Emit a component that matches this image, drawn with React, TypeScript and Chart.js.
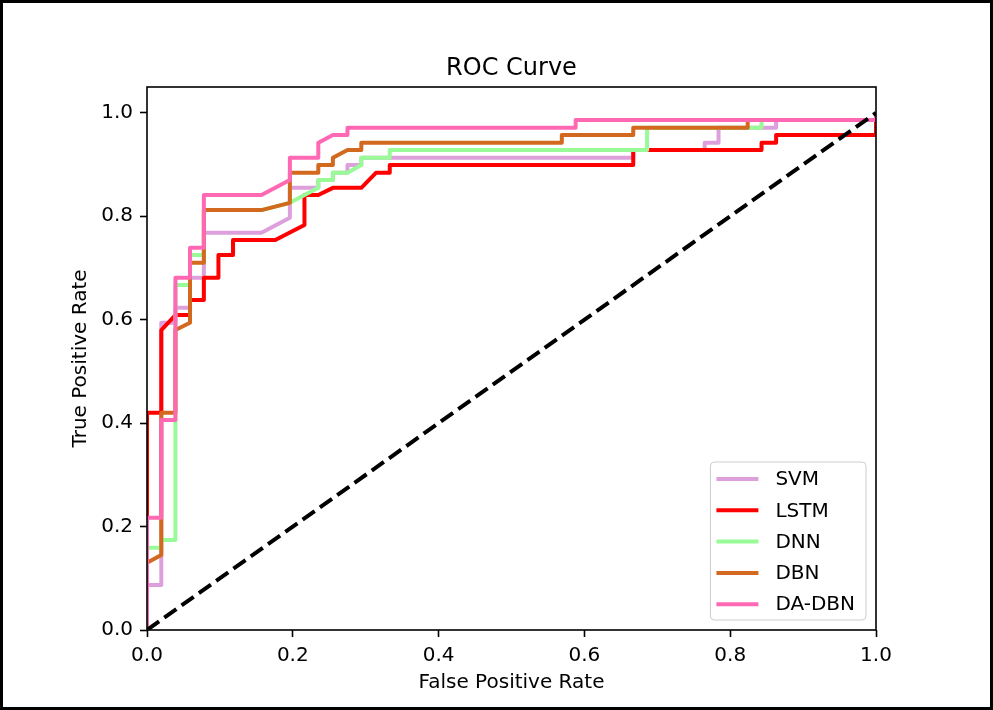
import React, { useEffect, useRef } from "react";
import { Chart, registerables } from "chart.js";

Chart.register(...registerables);

const TITLE = "ROC Curve";
const X_LABEL = "False Positive Rate";
const Y_LABEL = "True Positive Rate";
const X_TICKS = [0, 0.2, 0.4, 0.6, 0.8, 1.0];
const Y_TICKS = [0, 0.2, 0.4, 0.6, 0.8, 1.0];

const SVM_FPR = [0, 0, 0.0196, 0.0196, 0.039, 0.039, 0.059, 0.059, 0.078, 0.078, 0.157, 0.196, 0.196, 0.235, 0.235, 0.255, 0.255, 0.275, 0.275, 0.294, 0.294, 0.667, 0.667, 0.765, 0.765, 0.784, 0.784, 0.863, 0.863, 1, 1];
const SVM_TPR = [0, 0.087, 0.087, 0.594, 0.594, 0.623, 0.623, 0.681, 0.681, 0.768, 0.768, 0.797, 0.855, 0.855, 0.870, 0.870, 0.884, 0.884, 0.899, 0.899, 0.913, 0.913, 0.928, 0.928, 0.942, 0.942, 0.971, 0.971, 0.986, 0.986, 1];

const LSTM_FPR = [0, 0, 0.0196, 0.0196, 0.039, 0.059, 0.059, 0.078, 0.078, 0.098, 0.098, 0.118, 0.118, 0.176, 0.216, 0.216, 0.235, 0.255, 0.294, 0.314, 0.333, 0.333, 0.667, 0.667, 0.843, 0.843, 0.863, 0.863, 1, 1];
const LSTM_TPR = [0, 0.42, 0.42, 0.58, 0.609, 0.609, 0.638, 0.638, 0.681, 0.681, 0.725, 0.725, 0.754, 0.754, 0.783, 0.841, 0.841, 0.855, 0.855, 0.884, 0.884, 0.899, 0.899, 0.928, 0.928, 0.942, 0.942, 0.957, 0.957, 1];

const DNN_FPR = [0, 0, 0.0196, 0.0196, 0.039, 0.039, 0.059, 0.059, 0.078, 0.078, 0.157, 0.196, 0.216, 0.235, 0.235, 0.255, 0.255, 0.275, 0.294, 0.294, 0.333, 0.333, 0.686, 0.686, 0.843, 0.843, 1, 1];
const DNN_TPR = [0, 0.159, 0.159, 0.174, 0.174, 0.667, 0.667, 0.725, 0.725, 0.812, 0.812, 0.826, 0.841, 0.855, 0.870, 0.870, 0.884, 0.884, 0.899, 0.913, 0.913, 0.928, 0.928, 0.971, 0.971, 0.986, 0.986, 1];

const DBN_FPR = [0, 0, 0.0196, 0.0196, 0.039, 0.039, 0.059, 0.059, 0.078, 0.078, 0.157, 0.196, 0.196, 0.235, 0.235, 0.255, 0.255, 0.275, 0.294, 0.294, 0.569, 0.569, 0.667, 0.667, 0.824, 0.824, 1, 1];
const DBN_TPR = [0, 0.130, 0.145, 0.42, 0.42, 0.58, 0.594, 0.710, 0.710, 0.812, 0.812, 0.826, 0.884, 0.884, 0.899, 0.899, 0.913, 0.928, 0.928, 0.942, 0.942, 0.957, 0.957, 0.971, 0.971, 0.986, 0.986, 1];

const DADBN_FPR = [0, 0, 0.0196, 0.0196, 0.039, 0.039, 0.059, 0.059, 0.078, 0.078, 0.157, 0.196, 0.196, 0.235, 0.235, 0.255, 0.275, 0.275, 0.588, 0.588, 1, 1];
const DADBN_TPR = [0, 0.217, 0.217, 0.406, 0.406, 0.681, 0.681, 0.739, 0.739, 0.841, 0.841, 0.870, 0.913, 0.913, 0.942, 0.957, 0.957, 0.971, 0.971, 0.986, 0.986, 1];

const DIAG_X = [0, 1];
const DIAG_Y = [0, 1];

const SERIES_NAMES = ["SVM", "LSTM", "DNN", "DBN", "DA-DBN"];
const SERIES_COLORS = ["#DDA0DD", "#FF0000", "#98FB98", "#D2691E", "#FF69B4"];
const SERIES_FPR = [SVM_FPR, LSTM_FPR, DNN_FPR, DBN_FPR, DADBN_FPR];
const SERIES_TPR = [SVM_TPR, LSTM_TPR, DNN_TPR, DBN_TPR, DADBN_TPR];

const FONT = "'DejaVu Sans', 'Liberation Sans', sans-serif";

const decorPlugin = {
  id: "decor",
  afterDatasetsDraw(chart: any) {
    const { ctx, chartArea: a } = chart;
    ctx.save();
    // spines
    ctx.strokeStyle = "#000";
    ctx.lineWidth = 1.6;
    ctx.strokeRect(a.left, a.top, a.right - a.left, a.bottom - a.top);
    // title
    ctx.fillStyle = "#000";
    ctx.font = `24px ${FONT}`;
    ctx.textAlign = "center";
    ctx.textBaseline = "alphabetic";
    ctx.fillText(TITLE, (a.left + a.right) / 2, a.top - 12);
    // legend
    ctx.font = `20px ${FONT}`;
    const maxW = Math.max(...SERIES_NAMES.map((n) => ctx.measureText(n).width));
    const right = a.right - 10;
    const bottom = a.bottom - 10;
    const w = maxW + 76;
    const h = 158;
    const left = right - w;
    const top = bottom - h;
    ctx.beginPath();
    const r = 4;
    ctx.moveTo(left + r, top);
    ctx.lineTo(right - r, top);
    ctx.arcTo(right, top, right, top + r, r);
    ctx.lineTo(right, bottom - r);
    ctx.arcTo(right, bottom, right - r, bottom, r);
    ctx.lineTo(left + r, bottom);
    ctx.arcTo(left, bottom, left, bottom - r, r);
    ctx.lineTo(left, top + r);
    ctx.arcTo(left, top, left + r, top, r);
    ctx.closePath();
    ctx.fillStyle = "rgba(255,255,255,0.8)";
    ctx.fill();
    ctx.strokeStyle = "#cccccc";
    ctx.lineWidth = 1;
    ctx.stroke();
    SERIES_NAMES.forEach((name, i) => {
      const cy = top + 17 + i * 31.3;
      ctx.beginPath();
      ctx.strokeStyle = SERIES_COLORS[i];
      ctx.lineWidth = 4;
      ctx.lineCap = "butt";
      ctx.moveTo(left + 6, cy);
      ctx.lineTo(left + 48, cy);
      ctx.stroke();
      ctx.fillStyle = "#000";
      ctx.textAlign = "left";
      ctx.textBaseline = "middle";
      ctx.fillText(name, left + 65, cy + 1);
    });
    ctx.restore();
  },
};

export default function App() {
  const ref = useRef<HTMLCanvasElement | null>(null);

  useEffect(() => {
    if (!ref.current) return;
    const datasets: any[] = SERIES_NAMES.map((name, i) => ({
      label: name,
      data: SERIES_FPR[i].map((x, j) => ({ x, y: SERIES_TPR[i][j] })),
      borderColor: SERIES_COLORS[i],
      backgroundColor: SERIES_COLORS[i],
      borderWidth: 4,
      pointRadius: 0,
      tension: 0,
      fill: false,
      borderJoinStyle: "round",
      clip: 0,
      order: SERIES_NAMES.length - i,
    }));
    datasets.push({
      label: "diag",
      data: DIAG_X.map((x, j) => ({ x, y: DIAG_Y[j] })),
      borderColor: "#000",
      borderWidth: 4,
      borderDash: [14.8, 6.4],
      pointRadius: 0,
      fill: false,
      clip: 0,
      order: 0,
    });

    const chart = new Chart(ref.current, {
      type: "line",
      data: { datasets },
      options: {
        animation: false,
        responsive: false,
        maintainAspectRatio: false,
        layout: { padding: { left: 0, right: 117, top: 87, bottom: 0 } },
        plugins: {
          legend: { display: false },
          title: { display: false },
          tooltip: { enabled: false },
        },
        scales: {
          x: {
            type: "linear",
            min: 0,
            max: 1,
            afterBuildTicks: (s: any) => {
              s.ticks = X_TICKS.map((v) => ({ value: v }));
            },
            afterFit: (s: any) => {
              s.height = 80;
            },
            ticks: {
              color: "#000",
              font: { family: FONT, size: 20 },
              padding: 7,
              maxRotation: 0,
              autoSkip: false,
              callback: (v: any) => Number(v).toFixed(1),
            },
            grid: {
              drawOnChartArea: false,
              drawTicks: true,
              tickLength: 7,
              tickColor: "#000",
              tickWidth: 1.6,
              color: "#000",
            },
            border: { display: false },
            title: {
              display: true,
              text: X_LABEL,
              color: "#000",
              font: { family: FONT, size: 20 },
              padding: { top: 0, bottom: 15 },
            },
          },
          y: {
            type: "linear",
            min: 0,
            max: 1.05,
            afterBuildTicks: (s: any) => {
              s.ticks = Y_TICKS.map((v) => ({ value: v }));
            },
            afterFit: (s: any) => {
              s.width = 147;
            },
            ticks: {
              color: "#000",
              font: { family: FONT, size: 20 },
              padding: 7,
              autoSkip: false,
              callback: (v: any) => Number(v).toFixed(1),
            },
            grid: {
              drawOnChartArea: false,
              drawTicks: true,
              tickLength: 7,
              tickColor: "#000",
              tickWidth: 1.6,
              color: "#000",
            },
            border: { display: false },
            title: {
              display: true,
              text: Y_LABEL,
              color: "#000",
              font: { family: FONT, size: 20 },
              padding: { top: 69, bottom: 0 },
            },
          },
        },
      },
      plugins: [decorPlugin],
    } as any);

    return () => chart.destroy();
  }, []);

  return (
    <div style={{ position: "fixed", left: 0, top: 0, width: 993, height: 710, background: "#fff" }}>
      <canvas
        ref={ref}
        width={993}
        height={710}
        style={{ position: "absolute", left: 0, top: 0, width: 993, height: 710 }}
      />
      <div
        style={{
          position: "absolute",
          left: 0,
          top: 0,
          width: 993,
          height: 710,
          border: "3px solid #000",
          boxSizing: "border-box",
          pointerEvents: "none",
        }}
      />
    </div>
  );
}
